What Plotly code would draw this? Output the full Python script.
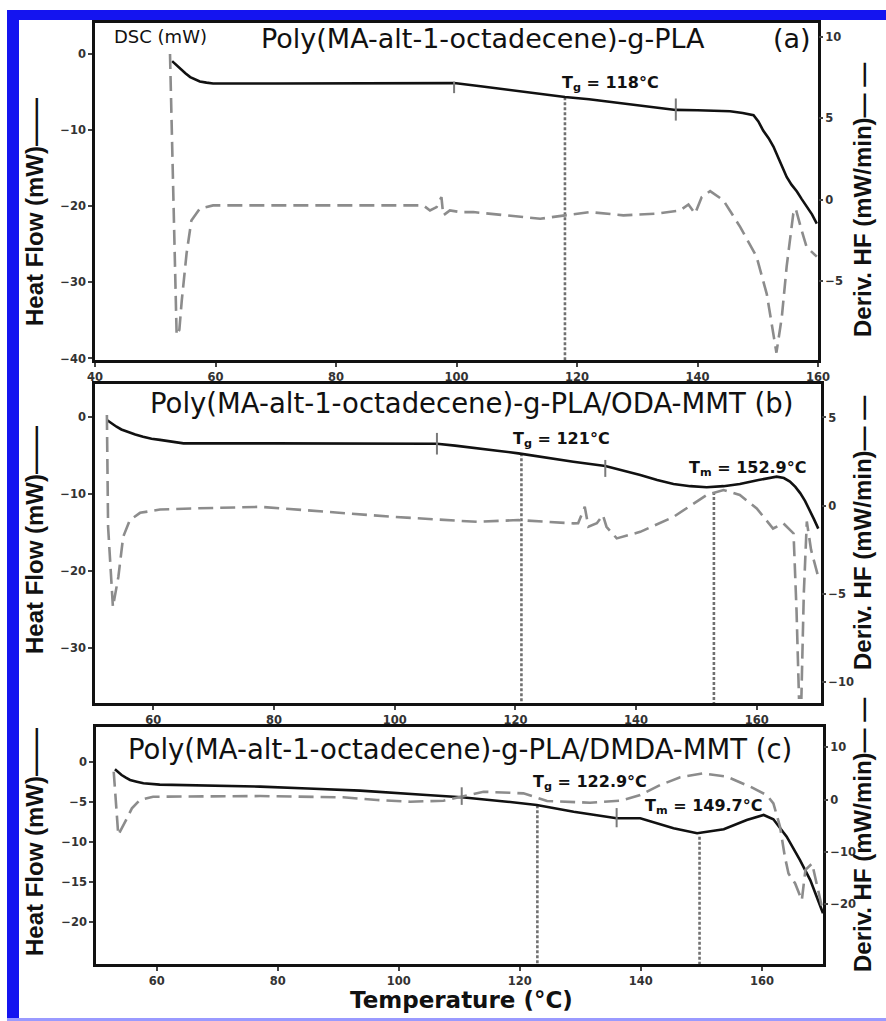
import plotly.graph_objects as go

W, H = 886, 1021

# ---------------- Panel (a) ----------------
a_hf_T = [52.8, 53.4, 54.1, 55.0, 55.8, 56.6, 57.4, 58.5, 59.6, 70, 80, 90, 99.6, 104, 108, 112, 118, 122, 127, 132, 136.4,
          140, 143, 145.4, 147.5, 149.3, 150.1, 150.9, 151.8, 152.6, 153.7, 154.8, 155.6, 156.5, 157.3, 158.1, 159.0, 159.8]
a_hf = [-1.0, -1.45, -2.0, -2.6, -3.1, -3.42, -3.67, -3.82, -3.93, -3.93, -3.93, -3.92, -3.88, -4.3, -4.7, -5.1, -5.7, -6.0, -6.5, -7.0, -7.4,
        -7.45, -7.5, -7.58, -7.8, -8.1, -8.9, -10.1, -11.1, -12.2, -14.2, -16.2, -17.2, -18.1, -19.1, -20.1, -21.1, -22.3]
a_d_T = [52.45, 52.9, 53.3, 53.55, 54.0, 54.4, 55.2, 56.0, 57.4, 59.6, 70, 80, 90, 94.5, 95.6, 96.7, 97.5, 97.8, 98.9, 100.6,
         102.8, 108.3, 113.9, 118, 122.2, 127.7, 133.2, 137.1, 138.5, 139.6, 140.7, 142.1, 144.3, 147.1, 149.8, 151.5,
         152.6, 153.1, 154.0, 154.8, 155.9, 156.3, 157.3, 158.1, 159.8]
a_d = [8.96, 1.0, -5.5, -8.33, -8.0, -6.2, -3.3, -1.27, -0.55, -0.35, -0.35, -0.35, -0.35, -0.35, -0.66, -0.45, 0.16, -0.96, -0.66, -0.76,
       -0.76, -0.96, -1.17, -0.96, -0.76, -0.96, -0.86, -0.66, -0.29, -0.86, 0.16, 0.53, -0.04, -1.68, -3.5, -5.8,
       -8.2, -9.4, -7.2, -4.1, -0.85, -0.55, -1.9, -2.9, -3.5]
a_tg = 118
a_tg_top = -5.73
a_tan_T = [99.6, 136.4]
a_tan_hi = [-3.7, -5.9]
a_tan_lo = [-5.2, -8.8]

# ---------------- Panel (b) ----------------
b_hf_T = [52.3, 53.1, 53.9, 54.7, 55.6, 57.0, 58.3, 59.7, 61.1, 63.0, 65.0, 80, 95, 107, 110, 114.1, 117, 120.5, 125, 129.6, 134.9,
          137.8, 140.7, 143.5, 146.2, 149.0, 151.7, 154.5, 157.2, 160.3, 163.3, 164.5, 165.5, 166.4, 167.2, 168.0, 168.8, 169.5, 170.2]
b_hf = [-0.43, -0.9, -1.3, -1.65, -1.94, -2.3, -2.6, -2.85, -3.0, -3.25, -3.45, -3.45, -3.45, -3.5, -3.75, -4.1, -4.4, -4.75, -5.3, -5.83, -6.39,
        -6.95, -7.55, -8.2, -8.72, -9.0, -9.15, -9.0, -8.72, -8.2, -7.77, -7.95, -8.4, -9.1, -9.9, -10.9, -12.1, -13.3, -14.5]
b_d_T = [52.3, 52.5, 53.3, 54.2, 55.0, 56.1, 57.8, 61.1, 66.6, 77.7, 88.7, 99.8, 113.6, 120.5, 129.6, 130.4, 131.5, 132.1, 133.5,
         134.5, 135.1, 136.8, 140.7, 146.2, 151.7, 154.5, 157.2, 160.0, 162.7, 164.4, 166.1, 166.6, 167.0, 167.4, 167.8, 168.3,
         169.0, 170.2]
b_d = [5.14, -1.2, -5.75, -4.05, -1.77, -0.82, -0.41, -0.22, -0.16, -0.07, -0.35, -0.64, -0.92, -0.82, -1.01, -1.0, -0.07, -1.2, -1.0,
       -0.54, -1.2, -1.86, -1.49, -0.64, 0.6, 0.88, 0.6, -0.16, -1.3, -1.0, -1.58, -6.0, -10.9, -10.9, -5.0, -0.9,
       -2.5, -4.05]
b_tg, b_tm = 121, 152.9
b_tg_top, b_tm_top = -4.75, -9.75
b_tan_T = [107.0, 134.9]
b_tan_hi = [-2.1, -5.6]
b_tan_lo = [-4.9, -7.8]

# ---------------- Panel (c) ----------------
c_hf_T = [53.1, 53.6, 54.2, 54.9, 55.6, 56.7, 57.8, 60.5, 70, 77.1, 85, 93.6, 104.6, 110.4, 117.9, 122.8, 128.9, 136.0, 139.9,
          142.7, 145.4, 149.3, 153.7, 157.5, 160.3, 161.9, 164.1, 166.3, 168.0, 170.1]
c_hf = [-0.95, -1.3, -1.66, -2.0, -2.29, -2.5, -2.7, -2.87, -3.0, -3.12, -3.35, -3.62, -4.16, -4.45, -5.0, -5.41, -6.25, -7.08, -7.08,
        -7.7, -8.33, -8.95, -8.45, -7.29, -6.66, -7.2, -9.37, -12.3, -14.8, -18.95]
c_d_T = [52.9, 53.65, 54.8, 55.9, 57.2, 59.4, 77.1, 90.8, 96.4, 101.9, 107.4, 110.0, 114.0, 120.6, 124.5, 131.6, 136.6, 139.9,
         143.2, 146.5, 150.3, 154.2, 158.1, 160.8, 161.9, 163.0, 163.8, 164.4, 165.5, 166.6, 167.2, 168.3, 169.1, 169.9]
c_d = [5.35, -6.74, -4.2, -1.64, -0.06, 0.57, 0.7, 0.46, -0.06, -0.38, -0.19, 0.5, 1.53, 1.22, -0.25, -0.57, -0.19, 0.9,
       2.8, 4.28, 5.04, 4.4, 2.48, 0.9, -0.69, -5.16, -10.9, -14.1, -16.0, -19.2, -13.4, -12.2, -16.6, -20.4]
c_tg, c_tm = 122.9, 149.7
c_tg_top, c_tm_top = -5.45, -9.4
c_tan_T = [110.4, 136.0]
c_tan_hi = [-3.2, -5.8]
c_tan_lo = [-5.4, -8.2]

# tick values
a_xt = [40, 60, 80, 100, 120, 140, 160]
bc_xt = [60, 80, 100, 120, 140, 160]
a_yl = [0, -10, -20, -30, -40]
a_yr = [10, 5, 0, -5]
b_yl = [0, -10, -20, -30]
b_yr = [5, 0, -5, -10]
c_yl = [0, -5, -10, -15, -20]
c_yr = [10, 0, -10, -20]

# ranges
a_xr, a_ylr, a_yrr = [40, 160], [-40.2, 4.0], [-9.85, 10.86]
b_xr, b_ylr, b_yrr = [50.33, 170.65], [-37.1, 4.24], [-11.2, 6.9]
c_xr, c_ylr, c_yrr = [49.97, 170.1], [-25.3, 4.34], [-31.4, 13.9]


def px(x):
    return x / W


def py(y):
    return 1 - y / H


SOLID = dict(color='#111111', width=2.6)
DASH = dict(color='#8c8c8c', width=2.6, dash='15px,7px')
DOT = dict(color='#707070', width=2.6, dash='3px,2px')

fig = go.Figure()

panels = [
    ('x', 'y', 'y2', a_hf_T, a_hf, a_d_T, a_d, [(a_tg, a_tg_top)], a_ylr, a_tan_T, a_tan_hi, a_tan_lo),
    ('x2', 'y3', 'y4', b_hf_T, b_hf, b_d_T, b_d, [(b_tg, b_tg_top), (b_tm, b_tm_top)], b_ylr, b_tan_T, b_tan_hi, b_tan_lo),
    ('x3', 'y5', 'y6', c_hf_T, c_hf, c_d_T, c_d, [(c_tg, c_tg_top), (c_tm, c_tm_top)], c_ylr, c_tan_T, c_tan_hi, c_tan_lo),
]

shapes = []
for xa, yl, yr, hT, hv, dT, dv, vlines, ylr, tT, thi, tlo in panels:
    for T, top in vlines:
        fig.add_trace(go.Scatter(x=[T, T], y=[top, ylr[0]], xaxis=xa, yaxis=yl, mode='lines', line=DOT,
                                 hoverinfo='skip'))
    fig.add_trace(go.Scatter(x=dT, y=dv, xaxis=xa, yaxis=yr, mode='lines', line=DASH))
    fig.add_trace(go.Scatter(x=hT, y=hv, xaxis=xa, yaxis=yl, mode='lines', line=SOLID))
    for T, hi, lo in zip(tT, thi, tlo):
        shapes.append(dict(type='line', xref=xa, yref=yl, x0=T, x1=T, y0=hi, y1=lo,
                           line=dict(color='#7a7a7a', width=2)))

TICKF = dict(family='DejaVu Sans', size=11.5, color='#333333', weight='bold')
AX = dict(showgrid=False, zeroline=False, showline=True, linecolor='#111111', linewidth=2.6, ticks='outside',
          ticklen=4, tickwidth=1.5, tickcolor='#444444', tickfont=TICKF, automargin=False)


def xax(dom, rng, tv, anchor):
    d = dict(AX)
    d.update(domain=dom, range=rng, tickvals=tv, anchor=anchor, mirror=True)
    return d


def ylax(dom, rng, tv, anchor):
    d = dict(AX)
    d.update(domain=dom, range=rng, tickvals=tv, anchor=anchor, mirror=True)
    return d


def yrax(over, rng, tv, anchor):
    d = dict(AX)
    d.update(overlaying=over, side='right', range=rng, tickvals=tv, anchor=anchor, showline=False)
    return d


layout = dict(
    width=W, height=H, margin=dict(l=0, r=0, t=0, b=0), showlegend=False,
    paper_bgcolor='white', plot_bgcolor='white',
    xaxis=xax([px(95), px(818)], a_xr, a_xt, 'y'),
    yaxis=ylax([py(360), py(23)], a_ylr, a_yl, 'x'),
    yaxis2=yrax('y', a_yrr, a_yr, 'x'),
    xaxis2=xax([px(95), px(821)], b_xr, bc_xt, 'y3'),
    yaxis3=ylax([py(703), py(384)], b_ylr, b_yl, 'x2'),
    yaxis4=yrax('y3', b_yrr, b_yr, 'x2'),
    xaxis3=xax([px(96), px(823)], c_xr, bc_xt, 'y5'),
    yaxis5=ylax([py(964), py(727)], c_ylr, c_yl, 'x3'),
    yaxis6=yrax('y5', c_yrr, c_yr, 'x3'),
)
fig.update_layout(**layout)

# blue frame of the picture
BLUE = '#1414f0'
shapes += [
    dict(type='rect', xref='paper', yref='paper', x0=px(7), x1=1, y0=py(20), y1=py(10), fillcolor=BLUE, line=dict(width=0)),
    dict(type='rect', xref='paper', yref='paper', x0=px(7), x1=px(19), y0=0, y1=py(10), fillcolor=BLUE, line=dict(width=0)),
    dict(type='rect', xref='paper', yref='paper', x0=px(7), x1=1, y0=0, y1=py(1018), fillcolor='#9a9aff', line=dict(width=0)),
]
fig.update_layout(shapes=shapes)

TF = 'DejaVu Sans'
ann = []


def add(text, x, y, size, family=TF, angle=0, color='#111111', bold=False):
    ann.append(dict(text=text, x=px(x), y=py(y), xref='paper', yref='paper',
                    showarrow=False, xanchor='center', yanchor='middle', textangle=angle,
                    font=dict(family=family, size=size, color=color, weight=('bold' if bold else 'normal'))))


add('DSC (mW)', 160, 37, 18)
add('Poly(MA-alt-1-octadecene)-g-PLA', 483, 39, 27)
add('(a)', 792, 39, 27)
add('T<sub>g</sub> = 118°C', 610, 83, 16, bold=True)

add('Poly(MA-alt-1-octadecene)-g-PLA/ODA-MMT (b)', 471, 403, 27.5)
add('T<sub>g</sub> = 121°C', 561, 439, 16, bold=True)
add('T<sub>m</sub> = 152.9°C', 748, 468, 16, bold=True)

add('Poly(MA-alt-1-octadecene)-g-PLA/DMDA-MMT (c)', 460, 749, 27.5)
add('T<sub>g</sub> = 122.9°C', 590, 782, 16, bold=True)
add('T<sub>m</sub> = 149.7°C', 704, 806, 16, bold=True)

add('Temperature (°C)', 461, 1000, 23, bold=True)

for yc in (212, 540, 842):
    add('Heat Flow (mW)——', 34, yc, 24, family='Liberation Sans', angle=-90, bold=True)
for yc in (200, 533, 835):
    add('Deriv. HF (mW/min)— —', 862, yc, 24, family='Liberation Sans', angle=-90, bold=True)

fig.update_layout(annotations=ann)
fig.write_html('out.html', config={'displayModeBar': False},
               post_script="document.body.style.margin='0px';document.body.style.overflow='hidden';")
